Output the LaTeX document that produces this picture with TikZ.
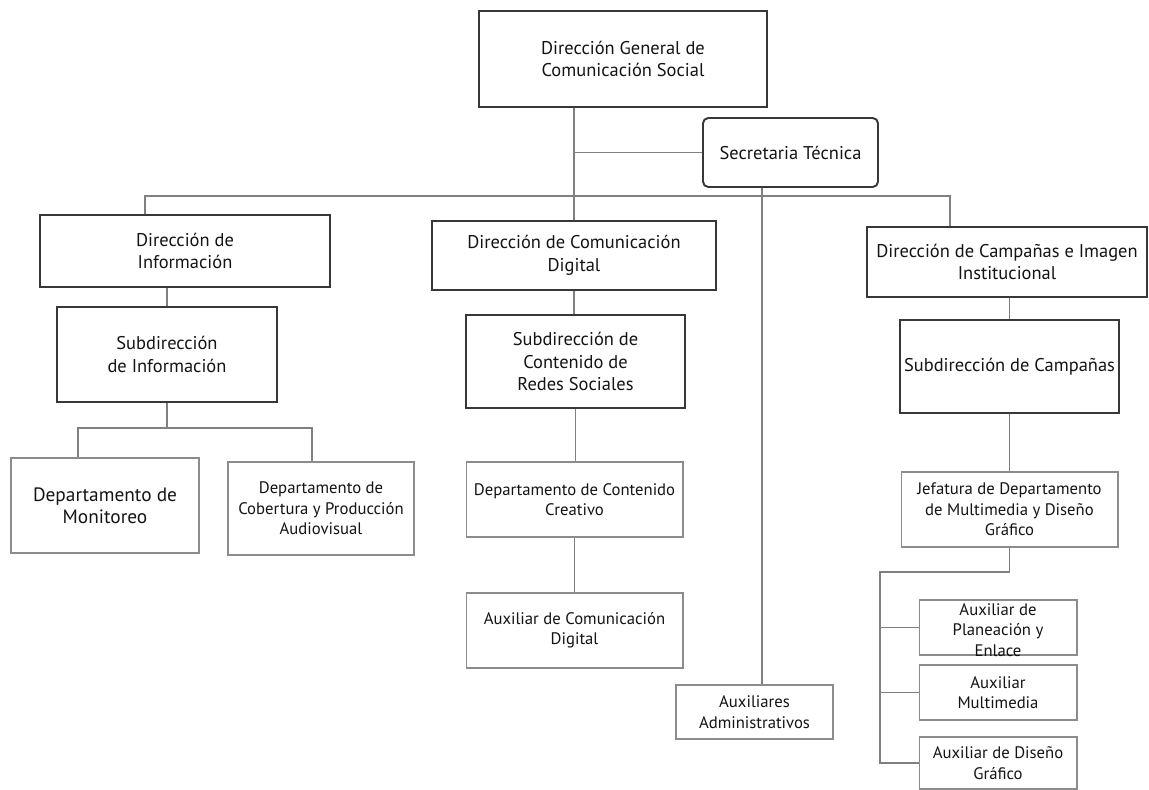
\documentclass[tikz,border=0pt]{standalone}
\usepackage{fontspec}
\setmainfont{PT Sans}
\begin{document}
\begin{tikzpicture}[x=0.02cm,y=-0.02cm,
  every node/.style={text=black!92},
  topbox/.style={draw=black!78, line width=1.1pt, rectangle, align=center, inner sep=0pt,
                 font=\fontsize{10.5}{13}\selectfont},
  lowbox/.style={draw=black!45, line width=0.6pt, rectangle, align=center, inner sep=0pt,
                 font=\fontsize{9.5}{11.6}\selectfont},
  plain/.style={align=center, inner sep=0pt, font=\fontsize{9.5}{11.6}\selectfont},
  wire/.style={draw=black!50, line width=0.6pt}]
\useasboundingbox (0,0) rectangle (1149,790);

% --- top level ---
\node[topbox, minimum width=5.76cm, minimum height=1.92cm] (dg) at (623,59)
  {Dirección General de\\Comunicación Social};
\node[topbox, rounded corners=3pt, minimum width=3.5cm, minimum height=1.38cm] (st) at (790.5,152.5)
  {Secretaria Técnica};

% --- direcciones ---
\node[topbox, minimum width=5.8cm, minimum height=1.44cm] (di) at (185,251)
  {Dirección de\\Información};
\node[topbox, minimum width=5.68cm, minimum height=1.38cm] (dcd) at (574,255.5)
  {Dirección de Comunicación\\Digital};
\node[topbox, minimum width=5.6cm, minimum height=1.4cm] (dci) at (1007,262)
  {Dirección de Campañas e Imagen\\Institucional};

% --- subdirecciones ---
\node[topbox, minimum width=4.4cm, minimum height=1.9cm] (si) at (167,354.5)
  {Subdirección\\de Información};
\node[topbox, minimum width=4.38cm, minimum height=1.86cm] (scr) at (575.5,361.5)
  {Subdirección de\\Contenido de\\Redes Sociales};
\node[topbox, minimum width=4.38cm, minimum height=1.86cm] (sc) at (1009.5,366.5)
  {Subdirección de Campañas};

% --- departamentos ---
\node[lowbox, font=\fontsize{11}{12.5}\selectfont, minimum width=3.76cm, minimum height=1.9cm] (dm) at (105,505.5)
  {Departamento de\\Monitoreo};
\node[lowbox, minimum width=3.72cm, minimum height=1.86cm] (dcp) at (321,508.5)
  {Departamento de\\Cobertura y Producción\\Audiovisual};
\node[lowbox, minimum width=4.34cm, minimum height=1.5cm] (dcc) at (574.5,499.5)
  {Departamento de Contenido\\Creativo};
\node[lowbox, minimum width=4.34cm, minimum height=1.5cm] (acd) at (574.5,630.5)
  {Auxiliar de Comunicación\\Digital};
\node[lowbox, minimum width=3.14cm, minimum height=1.08cm] (aa) at (754.5,712)
  {Auxiliares\\Administrativos};
\node[lowbox, minimum width=4.34cm, minimum height=1.5cm] (jd) at (1009.5,509.5)
  {Jefatura de Departamento\\de Multimedia y Diseño\\Gráfico};

% --- auxiliares de multimedia ---
\node[lowbox, minimum width=3.16cm, minimum height=1.1cm] (ape) at (998,627.5) {};
\node[plain] (apet) at (998,630) {Auxiliar de\\Planeación y\\Enlace};
\node[lowbox, minimum width=3.16cm, minimum height=1.1cm] (am) at (998,692.5)
  {Auxiliar\\Multimedia};
\node[lowbox, minimum width=3.16cm, minimum height=1.04cm] (adg) at (998,763)
  {Auxiliar de Diseño\\Gráfico};

% --- junction points ---
\coordinate (busL) at (145,196);
\coordinate (busR) at (950,196);
\coordinate (stx) at (762,0);
\coordinate (dmx) at (78,428);
\coordinate (dcpx) at (312,428);
\coordinate (jdTurn) at (880,572);

% --- connectors ---
\draw[wire] (dg.south -| dcd.north) -- (dcd.north);
\draw[wire] (st.west) -- (st.west -| dcd.north);
\draw[wire] (di.north -| busL) -- (busL) -- (busR) -- (dci.north -| busR);
\draw[wire] (st.south -| stx) -- (aa.north -| stx);

\draw[wire] (di.south -| si.north) -- (si.north);
\draw[wire] (si.south) -- (si.south |- dmx);
\draw[wire] (dm.north -| dmx) -- (dmx) -- (dcpx) -- (dcp.north -| dcpx);

\draw[wire] (dcd.south) -- (scr.north -| dcd.south);
\draw[wire] (scr.south) -- (dcc.north -| scr.south);
\draw[wire] (dcc.south) -- (acd.north);

\draw[wire] (dci.south -| sc.north) -- (sc.north);
\draw[wire] (sc.south) -- (jd.north -| sc.south);
\draw[wire] (jd.south) -- (jd.south |- jdTurn) -- (jdTurn) -- (jdTurn |- adg.west) -- (adg.west);
\draw[wire] (jdTurn |- ape.west) -- (ape.west);
\draw[wire] (jdTurn |- am.west) -- (am.west);
\end{tikzpicture}
\end{document}
